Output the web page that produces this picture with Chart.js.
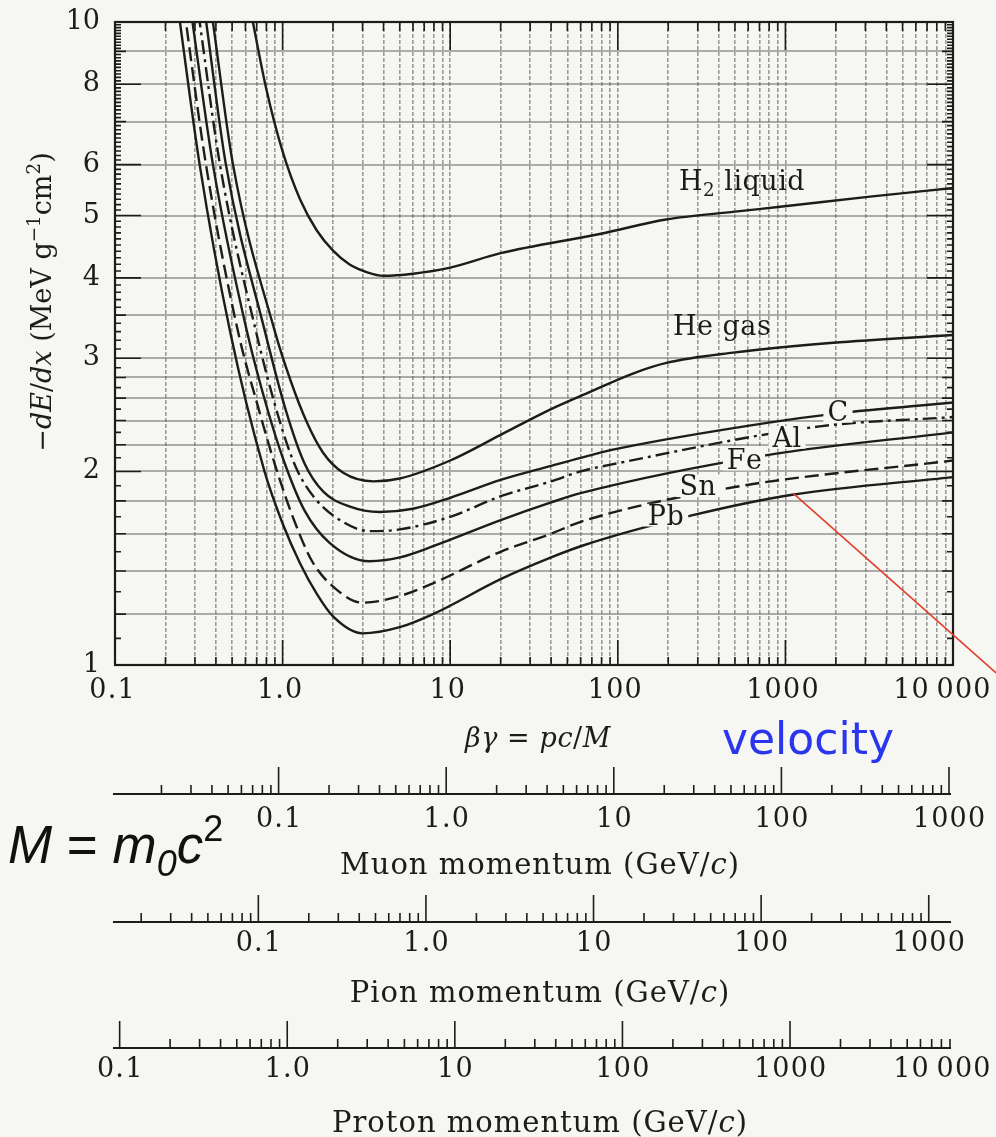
<!DOCTYPE html>
<html>
<head>
<meta charset="utf-8">
<script src="https://cdn.jsdelivr.net/npm/chart.js@4.4.1/dist/chart.umd.min.js"></script>
<style>
  html, body { margin: 0; padding: 0; background: #f6f6f3; }
  #wrap { width: 996px; height: 1137px; position: relative; }
</style>
</head>
<body>
<div id="wrap"><canvas id="dedxChart" width="996" height="1137"></canvas></div>
<script>
// -dE/dx (MeV g^-1 cm^2) against beta*gamma, one pair of arrays per material
const h2BetaGamma = [0.5, 0.6, 0.665, 0.8, 1.0, 1.27, 1.6, 2.0, 2.5, 3.2, 4, 6, 10, 20, 78, 194, 500, 930, 3200, 10000];
const h2Dedx      = [15.2, 11.55, 10, 7.86, 6.29, 5.30, 4.74, 4.41, 4.20, 4.08, 4.03, 4.06, 4.15, 4.37, 4.68, 4.93, 5.07, 5.16, 5.35, 5.52];

const heBetaGamma = [0.2, 0.3, 0.384, 0.506, 0.9, 1.11, 1.4, 1.74, 2.3, 3.5, 5, 10, 20, 40, 62, 123, 195, 487, 1924, 10000];
const heDedx      = [34.5, 16.0, 10, 6, 3.3, 2.78, 2.38, 2.14, 1.99, 1.93, 1.95, 2.08, 2.28, 2.50, 2.63, 2.84, 2.95, 3.06, 3.17, 3.26];

const cBetaGamma  = [0.2, 0.35, 0.459, 0.785, 1.05, 1.35, 1.75, 2.5, 3.8, 6, 10, 20, 40, 60, 100, 777, 2000, 10000];
const cDedx       = [29.0, 10, 6, 3.3, 2.48, 2.06, 1.86, 1.765, 1.73, 1.75, 1.82, 1.94, 2.04, 2.10, 2.17, 2.38, 2.46, 2.56];

const alBetaGamma = [0.2, 0.32, 0.423, 0.694, 0.95, 1.2, 1.55, 2.2, 3.3, 5, 10, 20, 40, 60, 100, 1600, 10000];
const alDedx      = [24.4, 10, 6, 3.3, 2.42, 2.03, 1.82, 1.68, 1.615, 1.625, 1.70, 1.83, 1.93, 2.0, 2.06, 2.35, 2.43];

const feBetaGamma = [0.2, 0.29, 0.384, 0.613, 0.83, 1.05, 1.35, 1.9, 3.3, 5, 7.9, 20, 40, 60, 777, 10000];
const feDedx      = [20.3, 10, 6, 3.3, 2.45, 2.03, 1.74, 1.55, 1.45, 1.47, 1.53, 1.68, 1.79, 1.85, 2.12, 2.30];

const snBetaGamma = [0.2, 0.265, 0.349, 0.542, 0.72, 0.9, 1.15, 1.5, 2.1, 3.0, 5, 7.9, 20, 40, 60, 490, 10000];
const snDedx      = [17.3, 10, 6, 3.3, 2.5, 2.05, 1.70, 1.45, 1.31, 1.25, 1.28, 1.34, 1.50, 1.60, 1.67, 1.89, 2.08];

const pbBetaGamma = [0.2, 0.244, 0.32, 0.486, 0.78, 1.0, 1.27, 1.6, 2.0, 3.0, 5, 7.9, 20, 40, 60, 280, 1100, 10000];
const pbDedx      = [14.7, 10, 6, 3.3, 2.0, 1.66, 1.44, 1.29, 1.19, 1.12, 1.145, 1.20, 1.36, 1.47, 1.53, 1.71, 1.84, 1.96];

// axis ticks
const yGridValues = [1, 1.2, 1.4, 1.6, 1.8, 2, 2.2, 2.4, 2.6, 2.8, 3, 3.5, 4, 5, 6, 7, 8, 9, 10];
const yTickValues = [1, 2, 3, 4, 5, 6, 8, 10];
const xTickValues = [0.1, 1, 10, 100, 1000, 10000];
const xTickLabels = ['0.1', '1.0', '10', '100', '1000', '10\u2009000'];

// momentum scales: p = betaGamma * M
const particleNames = ['Muon', 'Pion', 'Proton'];
const particleMassGeV = [0.10566, 0.13957, 0.93827];
const muonTickValues = [0.1, 1, 10, 100, 1000];
const pionTickValues = [0.1, 1, 10, 100, 1000];
const protonTickValues = [0.1, 1, 10, 100, 1000, 10000];
const momentumTickLabels = ['0.1', '1.0', '10', '100', '1000', '10\u2009000'];

const bgColor = '#f6f6f3';
const ink = '#1c1c1c';
const serif = '"DejaVu Serif", "Liberation Serif", serif';

function logSteps(min, max) {
    const out = [];
    const e0 = Math.floor(Math.log10(min) + 1e-9);
    const e1 = Math.ceil(Math.log10(max) - 1e-9);
    for (let e = e0; e <= e1; e++) {
        for (let k = 1; k <= 9; k++) {
            const v = parseFloat((k * Math.pow(10, e)).toPrecision(8));
            if (v >= min * 0.9999 && v <= max * 1.0001) out.push(v);
        }
    }
    return out;
}
function isDecade(v) {
    const l = Math.log10(v);
    return Math.abs(l - Math.round(l)) < 1e-6;
}

// draws text made of pieces (italic, superscript, subscript)
function drawRich(ctx, parts, x, y, size, family, align, spacing) {
    const sp = spacing || 0;
    const segs = parts.map(p => {
        const small = p.sup || p.sub;
        const fs = small ? size * 0.68 : size;
        const font = (p.it ? 'italic ' : '') + fs + 'px ' + family;
        ctx.font = font;
        const w = ctx.measureText(p.t).width + sp * p.t.length;
        return { p, font, w, dy: p.sup ? -size * 0.42 : (p.sub ? size * 0.24 : 0) };
    });
    const total = segs.reduce((a, s) => a + s.w, 0);
    let cx = align === 'center' ? x - total / 2 : (align === 'right' ? x - total : x);
    ctx.textAlign = 'left';
    ctx.textBaseline = 'alphabetic';
    segs.forEach(s => {
        ctx.font = s.font;
        let gx = cx;
        for (const ch of s.p.t) {
            ctx.fillText(ch, gx, y + s.dy);
            gx += ctx.measureText(ch).width + sp;
        }
        cx += s.w;
    });
    return total;
}

function drawSpaced(ctx, text, x, y, spacing) {
    let w = 0;
    for (const ch of text) w += ctx.measureText(ch).width + spacing;
    w -= spacing;
    let gx = x - w / 2;
    ctx.textAlign = 'left';
    for (const ch of text) {
        ctx.fillText(ch, gx, y);
        gx += ctx.measureText(ch).width + spacing;
    }
    return w;
}

const curveLabels = [
    { parts: [{ t: 'H' }, { t: '2', sub: 1 }, { t: ' liquid' }], at: [551, 5.68], gap: false },
    { parts: [{ t: 'He gas' }], at: [419, 3.37], gap: false },
    { parts: [{ t: 'C' }], at: [2060, 2.48], gap: true },
    { parts: [{ t: 'Al' }], at: [1023, 2.26], gap: true },
    { parts: [{ t: 'Fe' }], at: [566, 2.09], gap: true },
    { parts: [{ t: 'Sn' }], at: [301, 1.90], gap: true },
    { parts: [{ t: 'Pb' }], at: [194, 1.71], gap: true }
];

const pointerFrom = [1110, 1.85];
const pointerTo = [18070, 0.972];

function points(bg, dedx) {
    return bg.map((b, i) => ({ x: b, y: dedx[i] }));
}

const decorations = {
    id: 'decorations',
    beforeDraw(chart) {
        const ctx = chart.ctx;
        ctx.save();
        ctx.fillStyle = bgColor;
        ctx.fillRect(0, 0, chart.width, chart.height);
        ctx.restore();
    },
    afterDatasetsDraw(chart) {
        const ctx = chart.ctx;
        const xs = chart.scales.x, ys = chart.scales.y;
        ctx.save();
        curveLabels.forEach(l => {
            const cx = xs.getPixelForValue(l.at[0]);
            const cy = ys.getPixelForValue(l.at[1]);
            const size = 27;
            const base = cy + size * 0.36;
            ctx.globalAlpha = 0;
            const w = drawRich(ctx, l.parts, cx, base, size, serif, 'center', 0.5);
            ctx.globalAlpha = 1;
            if (l.gap) {
                ctx.fillStyle = bgColor;
                ctx.fillRect(cx - w / 2 - 4, cy - size * 0.42, w + 8, size * 0.84);
            }
            ctx.fillStyle = ink;
            drawRich(ctx, l.parts, cx, base, size, serif, 'center', 0.5);
        });
        ctx.restore();
    },
    afterDraw(chart) {
        const ctx = chart.ctx;
        const a = chart.chartArea;
        const xs = chart.scales.x, ys = chart.scales.y;
        ctx.save();
        ctx.strokeStyle = ink;
        ctx.fillStyle = ink;

        // frame
        ctx.lineWidth = 2.2;
        ctx.strokeRect(a.left, a.top, a.right - a.left, a.bottom - a.top);

        // inner ticks on top and bottom
        ctx.lineWidth = 1.6;
        logSteps(0.1, 10000).forEach(v => {
            const px = xs.getPixelForValue(v);
            const major = isDecade(v);
            ctx.beginPath();
            ctx.moveTo(px, a.top);
            ctx.lineTo(px, a.top + (major ? 28 : 9));
            ctx.moveTo(px, a.bottom);
            ctx.lineTo(px, a.bottom - (major ? 25 : 8));
            ctx.stroke();
        });
        // inner ticks on left and right
        for (let i = 10; i <= 100; i++) {
            const v = i / 10;
            const py = ys.getPixelForValue(v);
            const labelled = yTickValues.includes(v);
            const grid = yGridValues.includes(v);
            const len = labelled ? 26 : (grid ? 11 : 6);
            ctx.beginPath();
            ctx.moveTo(a.left, py);
            ctx.lineTo(a.left + len, py);
            ctx.moveTo(a.right, py);
            ctx.lineTo(a.right - len, py);
            ctx.stroke();
        }

        // main x tick labels
        ctx.font = '27px ' + serif;
        ctx.textBaseline = 'middle';
        xTickValues.forEach((v, i) => {
            let px = xs.getPixelForValue(v) - 3;
            const w = ctx.measureText(xTickLabels[i]).width + 5;
            if (px + w / 2 > chart.width - 6) px = chart.width - 6 - w / 2;
            drawSpaced(ctx, xTickLabels[i], px, a.bottom + 26, 1.2);
        });
        // main x title
        drawRich(ctx, [{ t: '\u03b2\u03b3', it: 1 }, { t: ' = ' }, { t: 'pc', it: 1 }, { t: '/' }, { t: 'M', it: 1 }],
            (a.left + a.right) / 2 + 4, a.bottom + 82, 27, serif, 'center', 0.6);

        // momentum axes
        const tickSets = [muonTickValues, pionTickValues, protonTickValues];
        const labelDrop = [26, 22, 22];
        const titleDrop = [80, 80, 84];
        ['muon', 'pion', 'proton'].forEach((id, k) => {
            const s = chart.scales[id];
            const yl = s.top;
            ctx.lineWidth = 2;
            ctx.beginPath();
            ctx.moveTo(s.left - 2, yl);
            ctx.lineTo(s.right - 2, yl);
            ctx.stroke();
            ctx.lineWidth = 1.6;
            logSteps(s.min, s.max).forEach(v => {
                const px = s.getPixelForValue(v);
                ctx.beginPath();
                ctx.moveTo(px, yl);
                ctx.lineTo(px, yl - (isDecade(v) ? 27 : 9));
                ctx.stroke();
            });
            ctx.font = '27px ' + serif;
            ctx.textBaseline = 'middle';
            tickSets[k].forEach((v, i) => {
                let px = s.getPixelForValue(v);
                const w = ctx.measureText(momentumTickLabels[i]).width + 5;
                if (px + w / 2 > chart.width - 6) px = chart.width - 6 - w / 2;
                drawSpaced(ctx, momentumTickLabels[i], px, yl + labelDrop[k], 1.2);
            });
            drawRich(ctx, [{ t: particleNames[k] + ' momentum (GeV/' }, { t: 'c', it: 1 }, { t: ')' }],
                (s.left + s.right) / 2 + 6, yl + titleDrop[k], 29, serif, 'center', 1.0);
        });

        // y title
        ctx.save();
        ctx.translate(51, 302);
        ctx.rotate(-Math.PI / 2);
        drawRich(ctx, [{ t: '\u2212' }, { t: 'dE', it: 1 }, { t: '/' }, { t: 'dx', it: 1 }, { t: ' (MeV g' },
            { t: '\u22121', sup: 1 }, { t: 'cm' }, { t: '2', sup: 1 }, { t: ')' }], 0, 0, 27, serif, 'center', 0);
        ctx.restore();

        // M = m0 c^2
        ctx.fillStyle = '#111';
        drawRich(ctx, [{ t: 'M', it: 1 }, { t: ' = ' }, { t: 'm', it: 1 }, { t: '0', it: 1, sub: 1 }, { t: 'c', it: 1 }, { t: '2', sup: 1 }],
            8, 863, 53, '"Liberation Sans", Arial, sans-serif', 'left', 0);

        // velocity note and pointer
        ctx.fillStyle = '#2a36ee';
        ctx.font = '44px "DejaVu Sans", sans-serif';
        ctx.textAlign = 'left';
        ctx.textBaseline = 'alphabetic';
        ctx.fillText('velocity', 722, 754);

        ctx.strokeStyle = '#e0402a';
        ctx.lineWidth = 1.6;
        ctx.beginPath();
        ctx.moveTo(xs.getPixelForValue(pointerFrom[0]), ys.getPixelForValue(pointerFrom[1]));
        ctx.lineTo(xs.getPixelForValue(pointerTo[0]), ys.getPixelForValue(pointerTo[1]));
        ctx.stroke();
        ctx.restore();
    }
};

function curve(label, bg, dedx, dash) {
    return {
        label: label,
        data: points(bg, dedx),
        xAxisID: 'x',
        yAxisID: 'y',
        borderColor: ink,
        borderWidth: 2.4,
        borderDash: dash,
        pointRadius: 0,
        fill: false,
        cubicInterpolationMode: 'monotone'
    };
}

function momentumScale(k, weight, height) {
    return {
        type: 'logarithmic',
        axis: 'x',
        position: 'bottom',
        weight: weight,
        min: 0.1 * particleMassGeV[k],
        max: 10000 * particleMassGeV[k],
        afterFit: s => { s.height = height; s.paddingLeft = 0; s.paddingRight = 0; },
        ticks: { display: false },
        grid: { display: false },
        border: { display: false }
    };
}

const ctx = document.getElementById('dedxChart').getContext('2d');
window.dedxChart = new Chart(ctx, {
    type: 'line',
    data: {
        datasets: [
            curve('H2 liquid', h2BetaGamma, h2Dedx, []),
            curve('He gas', heBetaGamma, heDedx, []),
            curve('C', cBetaGamma, cDedx, []),
            curve('Al', alBetaGamma, alDedx, [14, 5, 3, 5]),
            curve('Fe', feBetaGamma, feDedx, []),
            curve('Sn', snBetaGamma, snDedx, [14, 6]),
            curve('Pb', pbBetaGamma, pbDedx, [])
        ]
    },
    options: {
        responsive: false,
        animation: false,
        layout: { padding: { top: 22, right: 43, left: 0, bottom: 0 } },
        plugins: { legend: { display: false }, tooltip: { enabled: false } },
        scales: {
            x: {
                type: 'logarithmic',
                position: 'bottom',
                weight: 1,
                min: 0.1,
                max: 10000,
                afterBuildTicks: s => { s.ticks = logSteps(0.1, 10000).map(v => ({ value: v })); },
                afterFit: s => { s.height = 129; s.paddingLeft = 0; s.paddingRight = 0; },
                ticks: { display: false },
                grid: { color: 'rgba(80,80,80,0.55)', lineWidth: 1.6, drawTicks: false },
                border: { display: false, dash: [4, 2] }
            },
            y: {
                type: 'logarithmic',
                position: 'left',
                min: 1,
                max: 10,
                afterBuildTicks: s => { s.ticks = yGridValues.map(v => ({ value: v })); },
                afterFit: s => { s.width = 115; s.paddingTop = 0; s.paddingBottom = 0; },
                ticks: {
                    autoSkip: false,
                    padding: 15,
                    color: ink,
                    font: { family: serif, size: 27 },
                    callback: v => yTickValues.includes(v) ? String(v) : ''
                },
                grid: { color: 'rgba(95,95,95,0.5)', lineWidth: 2, drawTicks: false },
                border: { display: false }
            },
            muon: momentumScale(0, 2, 128),
            pion: momentumScale(1, 3, 126),
            proton: momentumScale(2, 4, 89)
        }
    },
    plugins: [decorations]
});
</script>
</body>
</html>
